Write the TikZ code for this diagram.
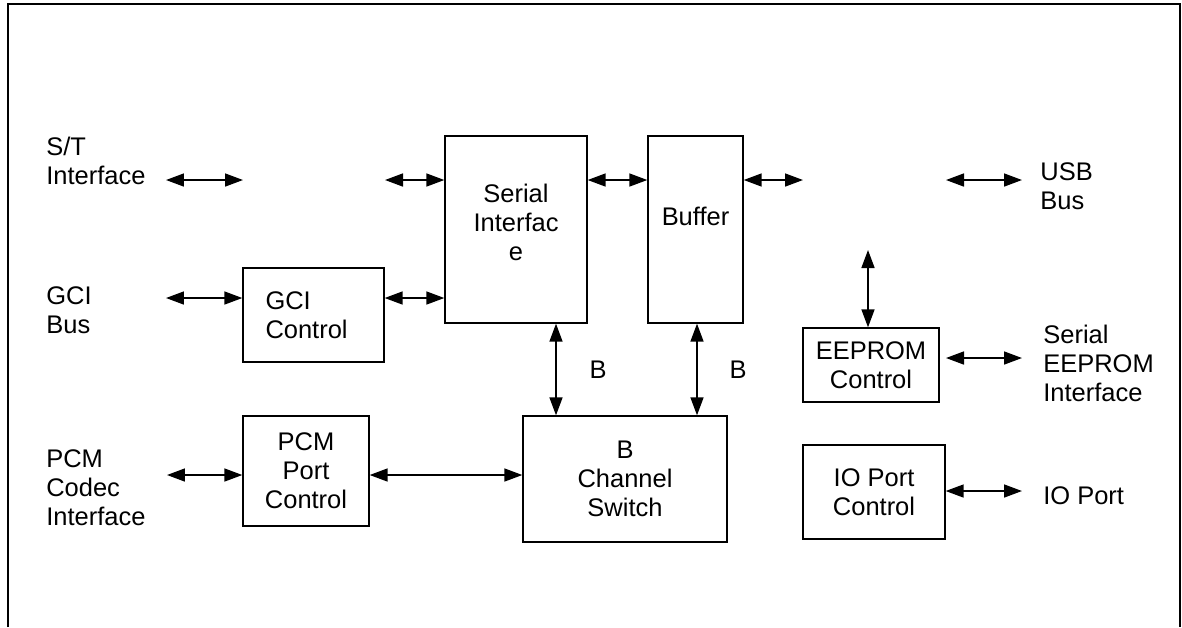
\documentclass[tikz,border=0pt]{standalone}
\usepackage{fontspec}
\setmainfont{Liberation Sans}
\usetikzlibrary{arrows.meta}

\begin{document}
\begin{tikzpicture}[x=0.02cm,y=-0.02cm,
    every node/.style={font=\fontsize{14.5}{16.5}\selectfont},
    block/.style={draw,line width=0.8pt,align=center},
    lbl/.style={anchor=west,inner sep=0pt,align=left},
    link/.style={{Triangle[length=0.36cm,width=0.26cm]}-{Triangle[length=0.36cm,width=0.26cm]},line width=0.9pt}]
      \useasboundingbox (0,0) rectangle (1182,627);
      \draw[line width=1.1pt] (8,627) -- (8,4) -- (1180,4) -- (1180,627);

      \path
      (516,229.5) node[block,minimum width=2.84cm,minimum height=3.74cm,text depth=0.28cm](serial) {Serial\\Interfac\\e}
      (695.5,229.5) node[block,minimum width=1.9cm,minimum height=3.74cm,text depth=0.52cm](buffer) {Buffer}
      (313.5,315) node[block,minimum width=2.82cm,minimum height=1.88cm,text width=1.92cm,align=left](gcictl) {GCI\\Control}
      (306,471) node[block,minimum width=2.52cm,minimum height=2.2cm](pcmctl) {PCM\\Port\\Control}
      (625,479) node[block,minimum width=4.08cm,minimum height=2.52cm](bswitch) {B\\Channel\\Switch}
      (871,365) node[block,minimum width=2.72cm,minimum height=1.48cm](eeprom) {EEPROM\\Control}
      (874,492) node[block,minimum width=2.84cm,minimum height=1.88cm](ioctl) {IO Port\\Control}
      (46,161) node[lbl](stlbl) {S/T\\Interface}
      (46,310.5) node[lbl](gcilbl) {GCI\\Bus}
      (46,487.5) node[lbl](pcmlbl) {PCM\\Codec\\Interface}
      (1040,186) node[lbl](usblbl) {USB\\Bus}
      (1043,363) node[lbl](eelbl) {Serial\\EEPROM\\Interface}
      (1043,496) node[lbl](iolbl) {IO Port}
      (598,370) node(b1) {B}
      (738,370) node(b2) {B}
      (166,180) coordinate(stA)
      (243,180) coordinate(stB)
      (385,180) coordinate(siA)
      (803,180) coordinate(bufR)
      (946,180) coordinate(usbA)
      (1022,180) coordinate(usbB)
      (166,298) coordinate(gciA)
      (167,475) coordinate(pcmA)
      (556,0) coordinate(bx1)
      (697,0) coordinate(bx2)
      (868,250) coordinate(eeA)
      (946,358) coordinate(eeB)
      (1022,358) coordinate(eeC)
      (1022,491) coordinate(ioB)
      ;

      \draw[link] (stA) -- (stB);
      \draw[link] (siA) -- (siA -| serial.west);
      \draw[link] (serial.east |- siA) -- (buffer.west |- siA);
      \draw[link] (buffer.east |- siA) -- (bufR);
      \draw[link] (usbA) -- (usbB);
      \draw[link] (gciA) -- (gciA -| gcictl.west);
      \draw[link] (gcictl.east |- gciA) -- (serial.west |- gciA);
      \draw[link] (pcmA) -- (pcmA -| pcmctl.west);
      \draw[link] (pcmctl.east |- pcmA) -- (bswitch.west |- pcmA);
      \draw[link] (serial.south -| bx1) -- (bswitch.north -| bx1);
      \draw[link] (buffer.south -| bx2) -- (bswitch.north -| bx2);
      \draw[link] (eeA) -- (eeA |- eeprom.north);
      \draw[link] (eeB) -- (eeC);
      \draw[link] (ioctl.east |- ioB) -- (ioB);
    \end{tikzpicture}
\end{document}
